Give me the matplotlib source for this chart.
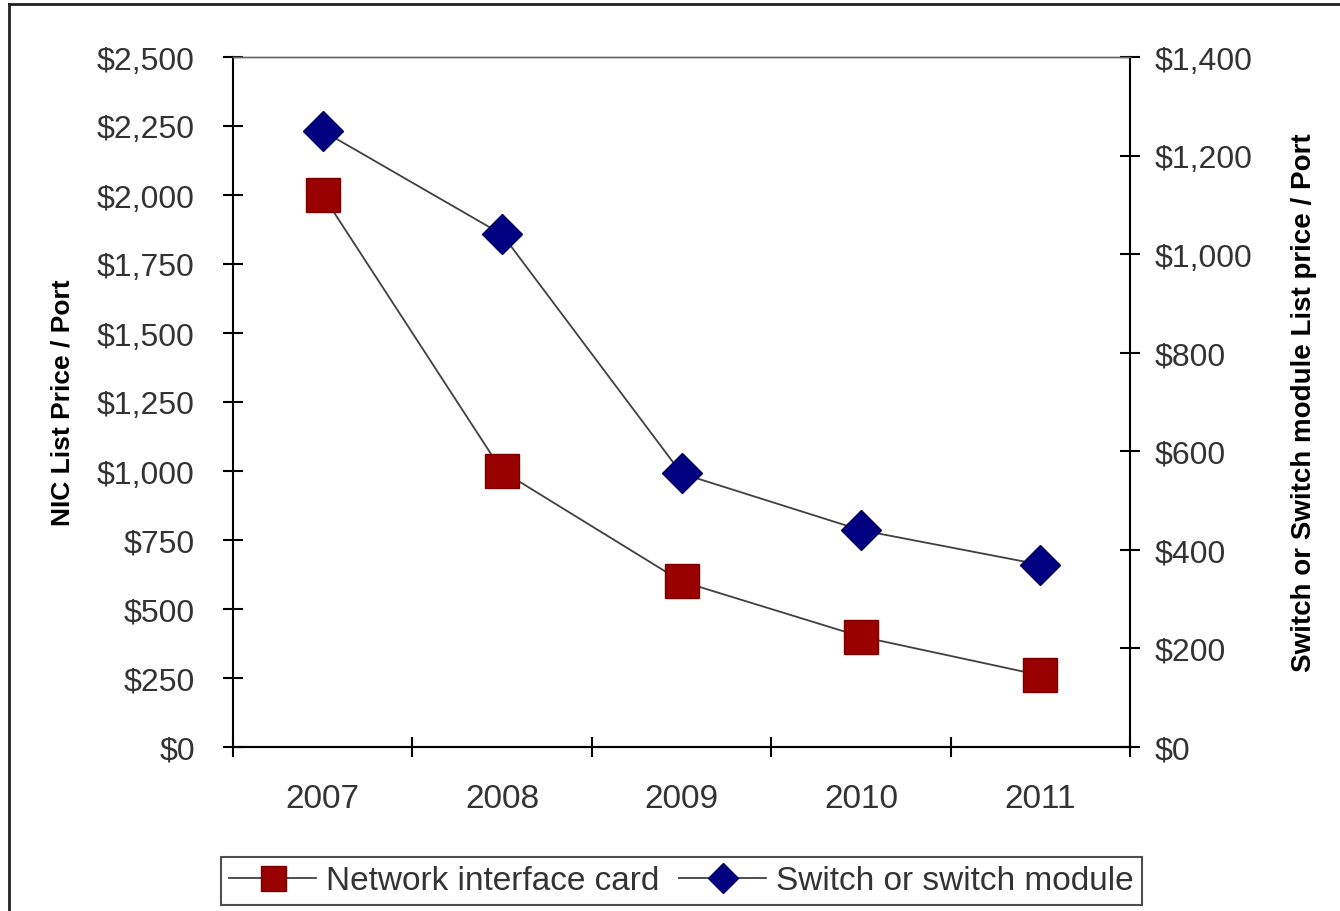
import matplotlib
matplotlib.use("Agg")
from matplotlib import pyplot as plt
from matplotlib.lines import Line2D

years = ["2007", "2008", "2009", "2010", "2011"]
nic_price = [2000, 1000, 600, 400, 260]
switch_price = [1250, 1040, 555, 440, 370]

nic_ticks = [0, 250, 500, 750, 1000, 1250, 1500, 1750, 2000, 2250, 2500]
switch_ticks = [0, 200, 400, 600, 800, 1000, 1200, 1400]

plt.rcParams['font.family'] = ['Liberation Sans', 'DejaVu Sans']

fig = plt.figure(figsize=(13.4, 9.12), dpi=100)
fig.patch.set_facecolor('white')

# outer frame (left and top edges only)
fig.add_artist(Line2D([9 / 1340, 9 / 1340], [0, 1 - 5 / 912], transform=fig.transFigure,
                      color='#222222', lw=2))
fig.add_artist(Line2D([9 / 1340, 1], [1 - 5 / 912, 1 - 5 / 912], transform=fig.transFigure,
                      color='#222222', lw=2))

ax = fig.add_axes([233 / 1340, 1 - 748 / 912, 897 / 1340, 690 / 912])
ax2 = ax.twinx()

x = range(len(years))
ax.plot(x, nic_price, color='#404040', lw=1.3, marker='s', ms=24,
        mfc='#990000', mec='#7a0000', mew=1, label='Network interface card', zorder=3)
ax2.plot(x, switch_price, color='#404040', lw=1.3, marker='D', ms=20,
         mfc='#000080', mec='#000066', mew=1, label='Switch or switch module', zorder=3)

ax.set_xlim(-0.5, len(years) - 0.5)
ax.set_ylim(0, 2500)
ax2.set_ylim(0, 1400)

# category ticks sit between the years, labels centred on them
ax.set_xticks([i - 0.5 for i in range(len(years) + 1)])
ax.set_xticklabels([])
ax.set_xticks(list(x), minor=True)
ax.set_xticklabels(years, minor=True, fontsize=24, color='#333333')
ax.tick_params(axis='x', which='minor', length=0, pad=26)
ax.tick_params(axis='x', which='major', direction='inout', length=15, width=1.5)

ax.set_yticks(nic_ticks)
ax.set_yticklabels([f"${v:,}" for v in nic_ticks], fontsize=23, color='#333333')
ax.tick_params(axis='y', direction='inout', length=15, width=1.5, pad=20)

ax2.set_yticks(switch_ticks)
ax2.set_yticklabels([f"${v:,}" for v in switch_ticks], fontsize=23, color='#333333')
ax2.tick_params(axis='y', direction='inout', length=15, width=1.5, pad=10)

for a in (ax, ax2):
    a.spines['top'].set_color('#666666')
    a.spines['top'].set_linewidth(1)
    a.spines['bottom'].set_linewidth(1.5)
    a.spines['left'].set_linewidth(1.5)
    a.spines['right'].set_linewidth(1.5)
ax.spines['right'].set_visible(False)
ax2.spines['left'].set_visible(False)

ax.set_ylabel("NIC List Price / Port", fontsize=19, fontweight='bold', labelpad=16)
ax2.set_ylabel("Switch or Switch module List price / Port",
               fontsize=20, fontweight='bold', labelpad=28)

h1, l1 = ax.get_legend_handles_labels()
h2, l2 = ax2.get_legend_handles_labels()
leg = fig.legend(h1 + h2, l1 + l2, loc='center', ncol=2,
                 bbox_to_anchor=((213 + 1150) / 2 / 1340, 1 - 882 / 912),
                 fontsize=24, frameon=True, fancybox=False, edgecolor='#222222',
                 handlelength=2.6, handletextpad=0.3, columnspacing=0.6,
                 borderpad=0.25, markerscale=0.75)
leg.get_frame().set_linewidth(1.5)
for t in leg.get_texts():
    t.set_color('#333333')

plt.savefig("out.png", dpi=100)
plt.close(fig)
